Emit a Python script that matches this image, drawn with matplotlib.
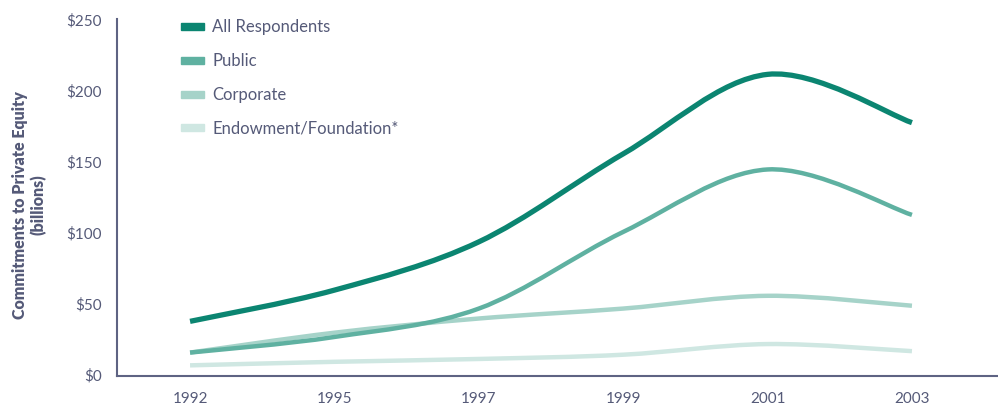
import matplotlib
matplotlib.use("Agg")
import matplotlib.pyplot as plt
import numpy as np
from matplotlib.path import Path
from matplotlib.patches import PathPatch, Rectangle

years = ["1992", "1995", "1997", "1999", "2001", "2003"]
all_resp = [37, 59, 93, 155, 211, 177]
public = [15, 26, 46, 100, 144, 112]
corporate = [15, 29, 39, 46, 55, 48]
endowment = [6, 8.5, 10.5, 13.5, 21, 16]
yticks = [0, 50, 100, 150, 200, 250]
ytick_labels = ["$0", "$50", "$100", "$150", "$200", "$250"]

series = [
    ("All Respondents", all_resp, "#0b8571", 3.8),
    ("Public", public, "#5fb1a1", 3.2),
    ("Corporate", corporate, "#a6d3c9", 3.2),
    ("Endowment/Foundation*", endowment, "#cfe7e2", 3.2),
]

txt = "#555a78"
axc = "#5e6383"
plt.rcParams['font.family'] = ['Lato', 'DejaVu Sans']

fig = plt.figure(figsize=(9.98, 4.10), dpi=100)
ax = fig.add_axes([117/998, 1-377/410, 1-117/998, (377-20)/410])

def smooth_path(xs, ys, t=0.5):
    xs = np.asarray(xs, float); ys = np.asarray(ys, float)
    n = len(xs)
    verts = [(xs[0], ys[0])]
    codes = [Path.MOVETO]
    for i in range(n-1):
        p0 = np.array([xs[max(i-1, 0)], ys[max(i-1, 0)]])
        p1 = np.array([xs[i], ys[i]])
        p2 = np.array([xs[i+1], ys[i+1]])
        p3 = np.array([xs[min(i+2, n-1)], ys[min(i+2, n-1)]])
        c1 = p1 + (p2 - p0) * t / 3
        c2 = p2 - (p3 - p1) * t / 3
        verts += [tuple(c1), tuple(c2), tuple(p2)]
        codes += [Path.CURVE4] * 3
    return Path(verts, codes)

x = np.arange(len(years))
for name, vals, col, lw in reversed(series):
    ax.add_patch(PathPatch(smooth_path(x, vals, 0.5), fill=False, edgecolor=col,
                           lw=lw, capstyle='butt', joinstyle='round'))

ax.set_xlim(-0.506, 5.596)
ax.set_ylim(-1.5, 250)
ax.set_xticks(x)
ax.set_xticklabels(years, color=txt, fontsize=11)
ax.set_yticks(yticks)
ax.set_yticklabels(ytick_labels, color=txt, fontsize=11)
ax.tick_params(length=0, pad=11)
ax.tick_params(axis='x', pad=11)
for s in ['top', 'right']:
    ax.spines[s].set_visible(False)
for s in ['left', 'bottom']:
    ax.spines[s].set_color(axc)
    ax.spines[s].set_linewidth(1.5)

fig.text(29/998, 1-205/410, "Commitments to Private Equity\n(billions)", rotation=90,
         ha='center', va='center', color=txt, fontsize=11.5, fontweight='heavy',
         multialignment='center', linespacing=1.15)

# legend
ly = [27, 61, 95, 128]
for (name, vals, col, lw), yy in zip(series, ly):
    fig.patches.append(Rectangle((181/998, 1-(yy+3.5)/410), 23/998, 7/410,
                                 transform=fig.transFigure, color=col, figure=fig))
    fig.text(212/998, 1-yy/410, name, ha='left', va='center', color=txt, fontsize=12)

fig.savefig("out.png", dpi=100)
